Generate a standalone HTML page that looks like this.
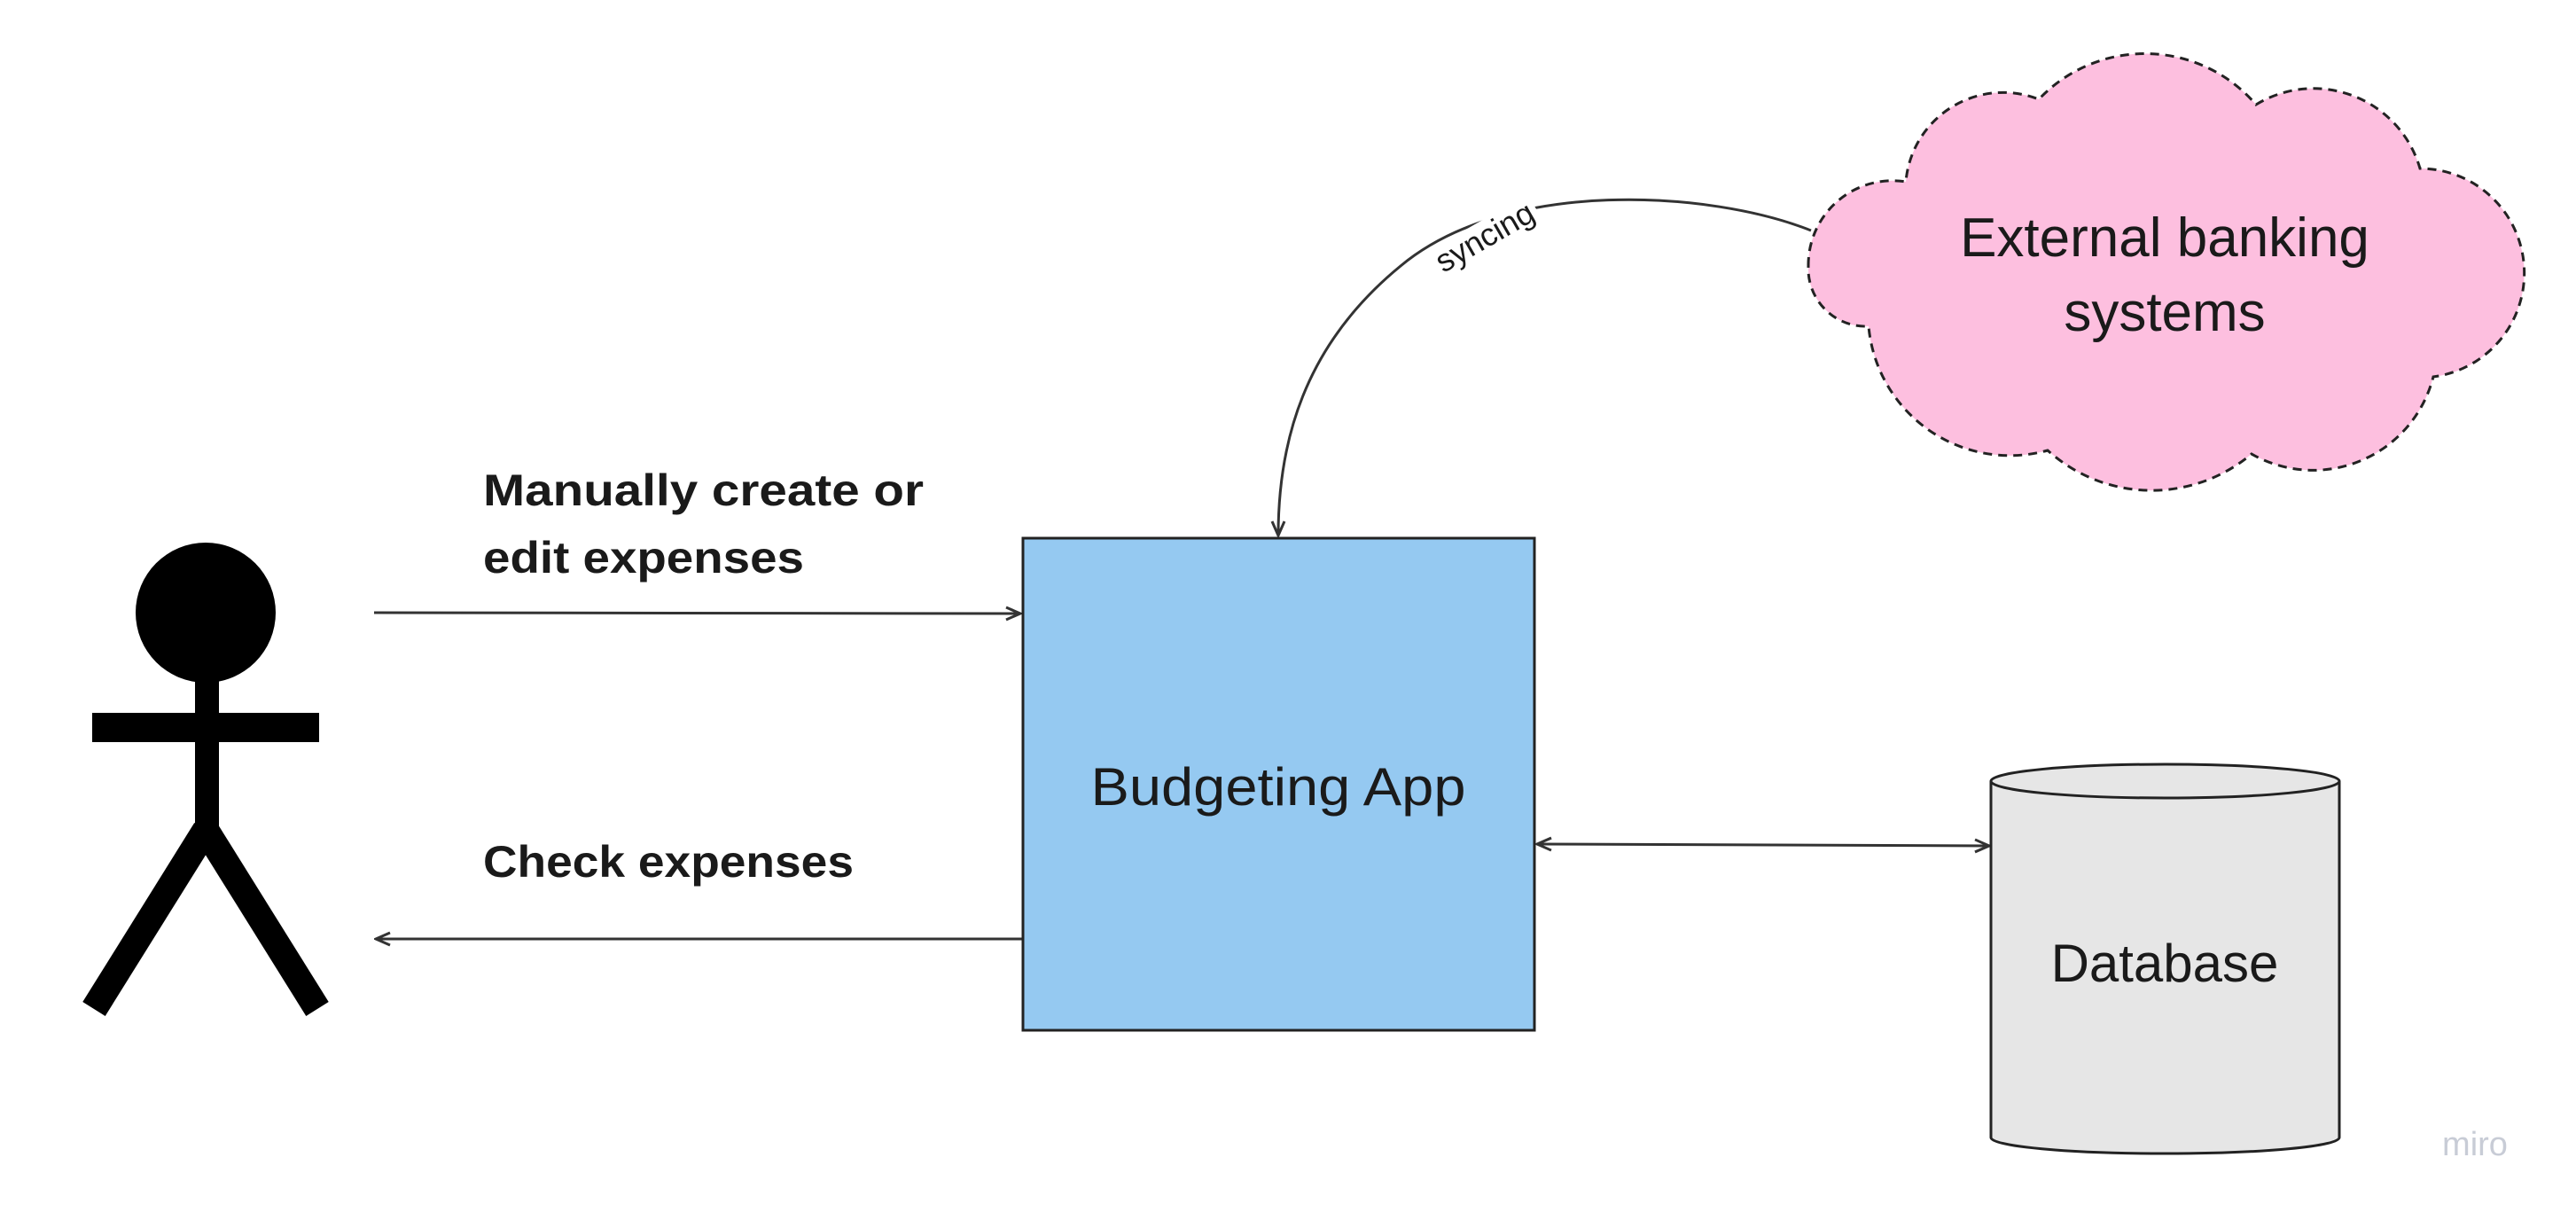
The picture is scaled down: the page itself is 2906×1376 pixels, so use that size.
<!DOCTYPE html>
<html><head><meta charset="utf-8"><style>
html,body{margin:0;padding:0;background:#fff;}
svg{display:block;}
text{font-family:"Liberation Sans",sans-serif;fill:#1a1a1a;}
</style></head><body>
<svg width="2906" height="1376" viewBox="0 0 2906 1376" xmlns="http://www.w3.org/2000/svg">
<defs>
<marker id="ah2" viewBox="0 0 20 20" refX="18" refY="10" markerWidth="20" markerHeight="20" markerUnits="userSpaceOnUse" orient="auto-start-reverse">
<path d="M2,3 L18,10 L2,17" fill="none" stroke="#333" stroke-width="3"/>
</marker>
</defs>
<!-- stick figure -->
<circle cx="232" cy="691" r="79" fill="#000"/>
<rect x="220" y="760" width="27" height="180" fill="#000"/>
<rect x="104" y="804" width="256" height="33" fill="#000"/>
<line x1="232" y1="936" x2="106" y2="1138" stroke="#000" stroke-width="30"/>
<line x1="232" y1="936" x2="358" y2="1138" stroke="#000" stroke-width="30"/>
<!-- arrows left -->
<line x1="422" y1="691" x2="1151" y2="692" stroke="#333" stroke-width="3" marker-end="url(#ah2)"/>
<line x1="1153" y1="1059" x2="424" y2="1059" stroke="#333" stroke-width="3" marker-end="url(#ah2)"/>
<text x="545" y="570" font-size="50" font-weight="bold" textLength="497" lengthAdjust="spacingAndGlyphs">Manually create or</text>
<text x="545" y="646" font-size="50" font-weight="bold" textLength="362" lengthAdjust="spacingAndGlyphs">edit expenses</text>
<text x="545" y="989" font-size="50" font-weight="bold" textLength="418" lengthAdjust="spacingAndGlyphs">Check expenses</text>
<!-- box -->
<rect x="1154" y="607" width="577" height="555" fill="#95c9f1" stroke="#222" stroke-width="3"/>
<text x="1442" y="908" font-size="60" text-anchor="middle" textLength="423" lengthAdjust="spacingAndGlyphs">Budgeting App</text>
<!-- double arrow -->
<line x1="1734" y1="952" x2="2244" y2="954" stroke="#333" stroke-width="3" marker-start="url(#ah2)" marker-end="url(#ah2)"/>
<!-- curve -->
<path d="M2043,260 C1930,215 1700,200 1580,300 C1470,390 1442,500 1442,604" fill="none" stroke="#333" stroke-width="3" marker-end="url(#ah2)"/>
<g transform="translate(1680,276) rotate(-30)">
<rect x="-66" y="-28" width="132" height="40" fill="#fff"/>
<text x="0" y="2" font-size="36" text-anchor="middle" fill="#333">syncing</text>
</g>
<!-- cloud -->
<path d="M2040,300 A95,95 0 0 1 2150,205 A110,110 0 0 1 2300,112 A165,165 0 0 1 2545,118 A125,125 0 0 1 2730,190 A118,118 0 0 1 2745,425 A140,140 0 0 1 2540,512 A175,175 0 0 1 2310,508 A160,160 0 0 1 2108,368 A65,65 0 0 1 2040,300 Z" fill="#fdbfdf" stroke="#222" stroke-width="3" stroke-dasharray="10,7"/>
<text x="2442" y="289" font-size="62" text-anchor="middle">External banking</text>
<text x="2442" y="373" font-size="62" text-anchor="middle">systems</text>
<!-- cylinder -->
<path d="M2246,881 L2246,1283 A196,18 0 0 0 2639,1283 L2639,881" fill="#e6e6e6" stroke="#222" stroke-width="3"/>
<ellipse cx="2442.5" cy="881" rx="196.5" ry="19" fill="#e6e6e6" stroke="#222" stroke-width="3"/>
<text x="2442" y="1107" font-size="60" text-anchor="middle">Database</text>
<text x="2792" y="1303" font-size="38" text-anchor="middle" style="fill:#c8ccd6">miro</text>
</svg>
</body></html>
